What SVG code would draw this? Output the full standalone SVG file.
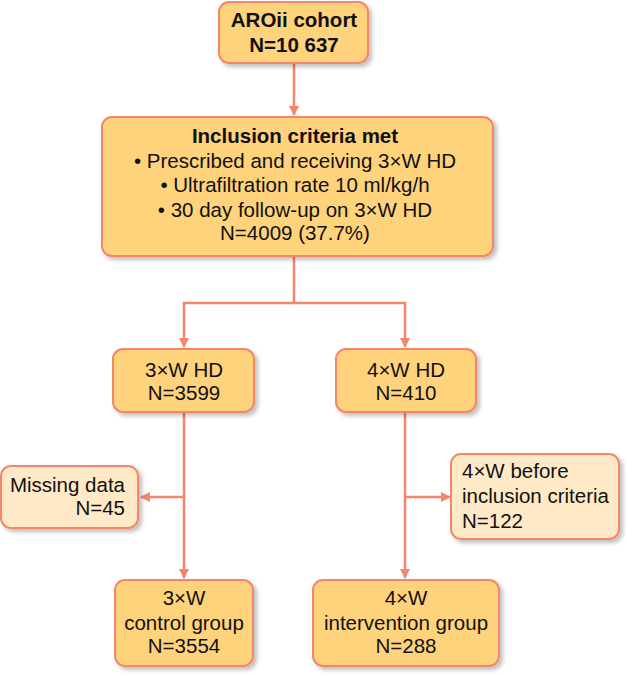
<svg xmlns="http://www.w3.org/2000/svg" width="628" height="675" viewBox="0 0 628 675">
<style>
.box{fill:#FFD27C;stroke:#F3866C;stroke-width:2}
.lbox{fill:#FFE9C6;stroke:#F3866C;stroke-width:2}
.t{font-family:"Liberation Sans",Arial,sans-serif;font-size:20.5px;fill:#111}
.c{text-anchor:middle}
.b{font-weight:bold}
.e{text-anchor:end}
.con{fill:none;stroke:#F3866C;stroke-width:2.5}
</style>
<defs>
<filter id="sh" x="-10%" y="-10%" width="130%" height="130%">
<feDropShadow dx="3" dy="3" stdDeviation="2" flood-color="#000" flood-opacity="0.25"/>
</filter>
<marker id="ah" markerWidth="11" markerHeight="11" refX="9" refY="5.5" orient="auto" markerUnits="userSpaceOnUse">
<path d="M0,0.5 L10,5.5 L0,10.5 Z" fill="#F3866C"/>
</marker>
</defs>
<g id="connectors">
<path class="con" d="M294,63 V115" marker-end="url(#ah)"/>
<path class="con" d="M294,256 V303 H184 V347" marker-end="url(#ah)"/>
<path class="con" d="M294,303 H405 V347" marker-end="url(#ah)"/>
<path class="con" d="M184,412 V578" marker-end="url(#ah)"/>
<path class="con" d="M184,497 H141" marker-end="url(#ah)"/>
<path class="con" d="M405,412 V578" marker-end="url(#ah)"/>
<path class="con" d="M405,497 H450" marker-end="url(#ah)"/>
</g>
<g id="aroii">
<rect class="box" x="219" y="2" width="149" height="61" rx="10" filter="url(#sh)"/>
<text class="t c b" x="294" y="27">AROii cohort</text>
<text class="t c b" x="294" y="52">N=10 637</text>
</g>
<g id="inclusion">
<rect class="box" x="102" y="117" width="391" height="139" rx="10" filter="url(#sh)"/>
<text class="t c b" x="295" y="143">Inclusion criteria met</text>
<text class="t c" x="295" y="168">• Prescribed and receiving 3×W HD</text>
<text class="t c" x="295" y="192">• Ultrafiltration rate 10 ml/kg/h</text>
<text class="t c" x="295" y="217">• 30 day follow-up on 3×W HD</text>
<text class="t c" x="295" y="240">N=4009 (37.7%)</text>
</g>
<g id="hd3">
<rect class="box" x="113" y="349" width="141" height="63" rx="10" filter="url(#sh)"/>
<text class="t c" x="184" y="377">3×W HD</text>
<text class="t c" x="184" y="400">N=3599</text>
</g>
<g id="hd4">
<rect class="box" x="336" y="349" width="140" height="63" rx="10" filter="url(#sh)"/>
<text class="t c" x="406" y="377">4×W HD</text>
<text class="t c" x="406" y="400">N=410</text>
</g>
<g id="missing">
<rect class="lbox" x="1" y="466" width="137" height="62" rx="10" filter="url(#sh)"/>
<text class="t e" x="125" y="492">Missing data</text>
<text class="t e" x="125" y="515">N=45</text>
</g>
<g id="before">
<rect class="lbox" x="451" y="454" width="168" height="85" rx="10" filter="url(#sh)"/>
<text class="t" x="462" y="478">4×W before</text>
<text class="t" x="462" y="503">inclusion criteria</text>
<text class="t" x="462" y="528">N=122</text>
</g>
<g id="control">
<rect class="box" x="115" y="580" width="138" height="86" rx="10" filter="url(#sh)"/>
<text class="t c" x="184" y="605">3×W</text>
<text class="t c" x="184" y="630">control group</text>
<text class="t c" x="184" y="653">N=3554</text>
</g>
<g id="intervention">
<rect class="box" x="313" y="580" width="186" height="86" rx="10" filter="url(#sh)"/>
<text class="t c" x="406" y="605">4×W</text>
<text class="t c" x="406" y="630">intervention group</text>
<text class="t c" x="406" y="653">N=288</text>
</g>
</svg>
